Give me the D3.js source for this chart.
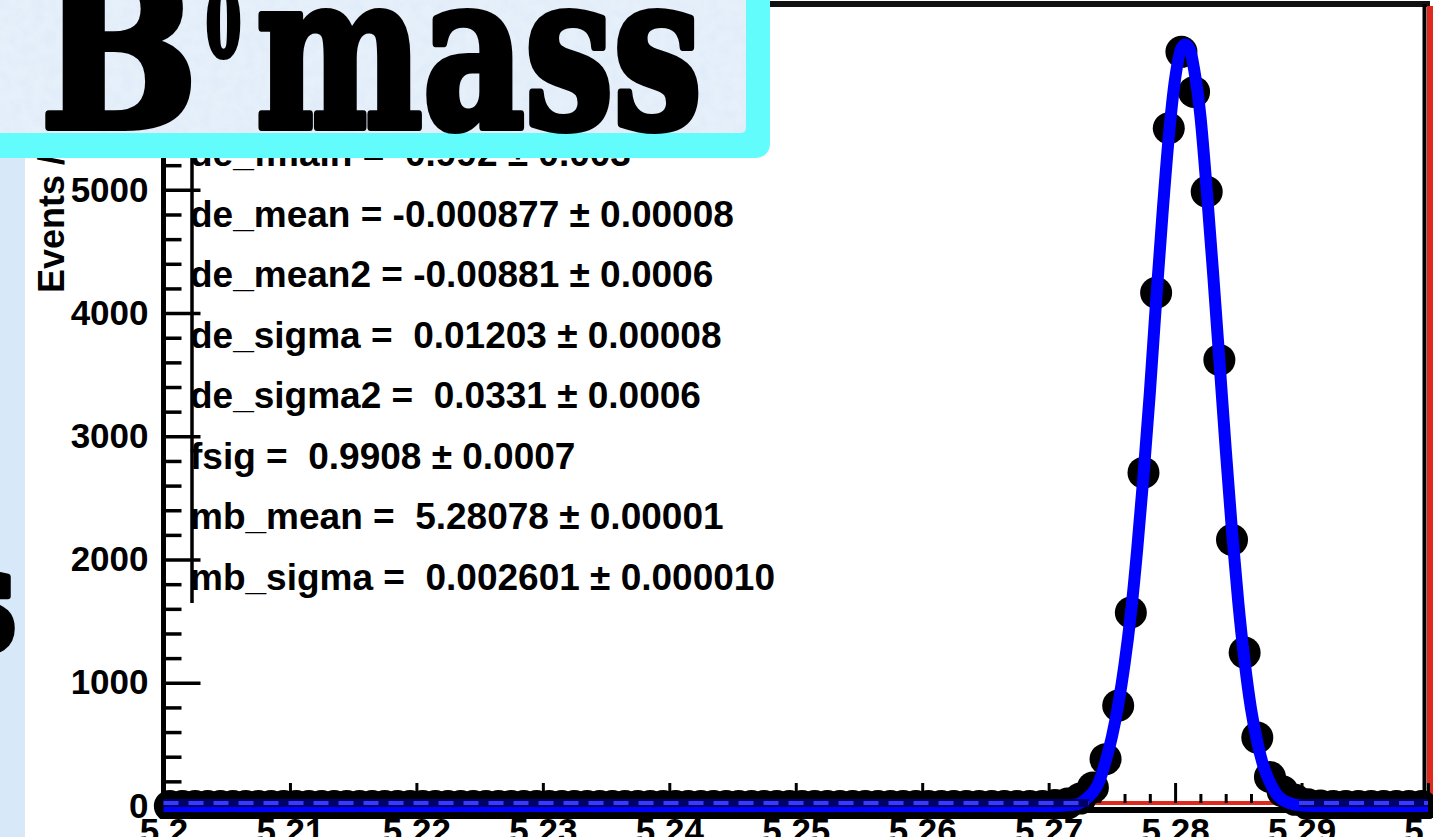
<!DOCTYPE html>
<html>
<head>
<meta charset="utf-8">
<script src="https://cdn.jsdelivr.net/npm/d3@7"></script>
<style>
  body { margin: 0; background: #d7e8f8; overflow: hidden; }
  text { white-space: pre; }
</style>
</head>
<body>
<div id="container"></div>
<script>
/* DATA */
// histogram of m_B (GeV), 100 bins of 0.001 from 5.2
const binLow = 5.2, binWidth = 0.001;
const counts = [
  0, 0, 0, 0, 0, 0, 0, 0, 0, 0,
  0, 0, 0, 0, 0, 0, 0, 0, 0, 0,
  0, 0, 0, 0, 0, 0, 0, 0, 0, 0,
  0, 0, 0, 0, 0, 0, 0, 0, 0, 0,
  0, 0, 0, 0, 0, 0, 0, 0, 0, 0,
  0, 0, 0, 0, 0, 0, 0, 0, 0, 0,
  0, 0, 0, 0, 0, 0, 0, 0, 0, 0,
  8, 20, 60, 150, 380, 815, 1570, 2705, 4165, 5500,
  6120, 5795, 4985, 3620, 2160, 1245, 555, 235, 120, 50,
  15, 5, 0, 0, 0, 0, 0, 0, 0, 0
];

// fitted curve
const fitMass = [5.2, 5.270, 5.272, 5.273, 5.274, 5.2745, 5.275, 5.2755, 5.276, 5.2765,
  5.277, 5.2775, 5.278, 5.2785, 5.279, 5.2795, 5.280, 5.2805, 5.2808, 5.2812,
  5.2815, 5.282, 5.2825, 5.283, 5.2835, 5.284, 5.2845, 5.285, 5.2855, 5.286,
  5.2865, 5.287, 5.2875, 5.288, 5.289, 5.290, 5.292, 5.3];
const fitEvents = [0, 0, 10, 60, 200, 360, 560, 820, 1150, 1560,
  2080, 2680, 3350, 4100, 4800, 5430, 5900, 6150, 6180, 6130,
  5980, 5600, 5000, 4330, 3620, 2900, 2230, 1650, 1170, 790,
  520, 320, 190, 100, 25, 5, 0, 0];

// background component (dashed), visible only outside the peak
const bgMass = [5.2, 5.2732, null, 5.2898, 5.3];
const bgEvents = [25, 25, null, 25, 25];

// axes
const xTickValues = [5.2, 5.21, 5.22, 5.23, 5.24, 5.25, 5.26, 5.27, 5.28, 5.29, 5.3];
const xTickLabels = ["5.2", "5.21", "5.22", "5.23", "5.24", "5.25", "5.26", "5.27", "5.28", "5.29", "5.3"];
const yTickValues = [0, 1000, 2000, 3000, 4000, 5000, 6000];
const yTickLabels = ["0", "1000", "2000", "3000", "4000", "5000", "6000"];
const yTitle = "Events / ( 0.001 )";

// fit results box
const statsLines = [
  "de_fmain =  0.992 \u00b1 0.003",
  "de_mean = -0.000877 \u00b1 0.00008",
  "de_mean2 = -0.00881 \u00b1 0.0006",
  "de_sigma =  0.01203 \u00b1 0.00008",
  "de_sigma2 =  0.0331 \u00b1 0.0006",
  "fsig =  0.9908 \u00b1 0.0007",
  "mb_mean =  5.28078 \u00b1 0.00001",
  "mb_sigma =  0.002601 \u00b1 0.000010"
];

/* SIZES AND SCALES */
const W = 1433, H = 837;
const x = d3.scaleLinear().domain([5.2, 5.3]).range([163.5, 1428]);
const y = d3.scaleLinear().domain([0, 6500]).range([806, 5]);

const svg = d3.select("#container").append("svg")
  .attr("width", W).attr("height", H);

const defs = svg.append("defs");
defs.append("clipPath").attr("id", "plotClip")
  .append("rect").attr("x", 25).attr("y", 0).attr("width", W).attr("height", 819);
const paper = defs.append("filter").attr("id", "paper")
  .attr("x", 0).attr("y", 0).attr("width", 1).attr("height", 1);
paper.append("feTurbulence").attr("type", "fractalNoise")
  .attr("baseFrequency", 0.09).attr("numOctaves", 3).attr("seed", 4);
paper.append("feColorMatrix").attr("type", "matrix")
  .attr("values", "0 0 0 0 0.62  0 0 0 0 0.74  0 0 0 0 0.93  0.9 0 0 0 -0.3");

/* SLIDE BACKGROUND */
svg.append("rect").attr("width", W).attr("height", H).attr("fill", "#d7e8f8");
svg.append("text")
  .attr("x", 18).attr("y", 652).attr("text-anchor", "end")
  .style("font-family", "DejaVu Serif").style("font-weight", "bold").style("font-size", "150px")
  .attr("stroke", "#000").attr("stroke-width", 6).attr("stroke-linejoin", "round")
  .text("s");
svg.append("rect").attr("x", 25).attr("y", 0).attr("width", W - 25).attr("height", H).attr("fill", "#fff");

/* FRAME */
const frame = svg.append("g");
frame.append("line").attr("x1", x(5.2)).attr("x2", 1430).attr("y1", 4).attr("y2", 4)
  .attr("stroke", "#111").attr("stroke-width", 6);
frame.append("line").attr("x1", x(5.2)).attr("x2", W).attr("y1", 810).attr("y2", 810)
  .attr("stroke", "#000").attr("stroke-width", 6);
frame.append("line").attr("x1", 1424.5).attr("x2", 1424.5).attr("y1", 4).attr("y2", 808)
  .attr("stroke", "#000").attr("stroke-width", 4);
frame.append("line").attr("x1", 1430).attr("x2", 1430).attr("y1", 6).attr("y2", 805)
  .attr("stroke", "#e0281c").attr("stroke-width", 6);
frame.append("line").attr("x1", x(5.2)).attr("x2", W).attr("y1", 803).attr("y2", 803)
  .attr("stroke", "#e0281c").attr("stroke-width", 4);

/* X AXIS (ticks point up into the frame) */
const axisFont = g => g.attr("font-family", "'Liberation Sans', Arial, sans-serif")
  .attr("font-size", 35).attr("font-weight", "bold");

const xMinor = d3.range(5.202, 5.3, 0.002).filter(v => Math.abs(v * 100 - Math.round(v * 100)) > 1e-6);
svg.append("g").attr("transform", "translate(0,803)")
  .call(d3.axisBottom(x).tickValues(xMinor).tickFormat("").tickSize(-9))
  .call(g => g.select(".domain").remove())
  .call(g => g.selectAll("line").attr("stroke-width", 3));
svg.append("g").attr("transform", "translate(0,803)")
  .call(d3.axisBottom(x).tickValues(xTickValues).tickFormat((d, i) => xTickLabels[i])
    .tickSize(-20).tickPadding(15))
  .call(axisFont)
  .call(g => g.select(".domain").remove())
  .call(g => g.selectAll("line").attr("stroke-width", 3));

/* Y AXIS (ticks point right into the frame) */
const yMinor = d3.range(200, 6500, 200).filter(v => v % 1000 !== 0);
svg.append("g").attr("transform", `translate(${x(5.2)},0)`)
  .call(d3.axisLeft(y).tickValues(yMinor).tickFormat("").tickSize(-18))
  .call(g => g.select(".domain").remove())
  .call(g => g.selectAll("line").attr("stroke-width", 3.5));
svg.append("g").attr("transform", `translate(${x(5.2)},0)`)
  .call(d3.axisLeft(y).tickValues(yTickValues).tickFormat((d, i) => yTickLabels[i])
    .tickSize(-37).tickPadding(15))
  .call(axisFont)
  .call(g => g.select(".domain").remove())
  .call(g => g.selectAll("line").attr("stroke-width", 3.5));
svg.append("line").attr("x1", x(5.2)).attr("x2", x(5.2)).attr("y1", 4).attr("y2", 808)
  .attr("stroke", "#000").attr("stroke-width", 5);

svg.append("text")
  .attr("transform", "translate(64,293) rotate(-90)")
  .attr("font-family", "'Liberation Sans', Arial, sans-serif")
  .attr("font-size", 36).attr("font-weight", "bold")
  .text(yTitle);

/* STATS BOX */
svg.append("line").attr("x1", 192).attr("x2", 192).attr("y1", 0).attr("y2", 603)
  .attr("stroke", "#000").attr("stroke-width", 3.5);
svg.append("g").selectAll("text").data(statsLines).join("text")
  .attr("x", 190)
  .attr("y", (d, i) => 166 + i * 60.5)
  .attr("font-family", "'Liberation Sans', Arial, sans-serif")
  .attr("font-size", 37).attr("font-weight", "bold")
  .text(d => d);

/* DATA POINTS */
const plot = svg.append("g").attr("clip-path", "url(#plotClip)");
plot.selectAll("circle").data(counts).join("circle")
  .attr("cx", (d, i) => x(binLow + (i + 0.5) * binWidth))
  .attr("cy", d => y(d))
  .attr("r", 16)
  .attr("fill", "#000");

/* FIT CURVE */
const fitLine = d3.line()
  .x(d => x(d[0])).y(d => y(d[1]))
  .curve(d3.curveMonotoneX);
plot.append("path")
  .datum(d3.zip(fitMass, fitEvents))
  .attr("d", fitLine)
  .attr("fill", "none").attr("stroke", "#0000ff").attr("stroke-width", 12)
  .attr("stroke-linejoin", "round");

/* BACKGROUND COMPONENT */
const bgLine = d3.line()
  .defined(d => d[0] !== null)
  .x(d => x(d[0])).y(d => y(d[1]));
const bgData = d3.zip(bgMass, bgEvents);
plot.append("path").datum(bgData).attr("d", bgLine)
  .attr("fill", "none").attr("stroke", "#00006a").attr("stroke-width", 8);
plot.append("path").datum(bgData).attr("d", bgLine)
  .attr("fill", "none").attr("stroke", "#3a3aff").attr("stroke-width", 4)
  .attr("stroke-dasharray", "15,10");

/* TITLE BOX */
const title = svg.append("g");
title.append("rect").attr("x", -30).attr("y", -30).attr("width", 800).attr("height", 188)
  .attr("rx", 14).attr("fill", "#63fcfc");
title.append("rect").attr("x", -30).attr("y", -30).attr("width", 776).attr("height", 163)
  .attr("rx", 5).attr("fill", "#e6f0fa");
title.append("rect").attr("x", -30).attr("y", -30).attr("width", 776).attr("height", 163)
  .attr("filter", "url(#paper)").attr("opacity", 0.55);

const titleFont = t => t.style("font-family", "'DejaVu Serif', serif").style("font-weight", "bold")
  .attr("fill", "#000").attr("stroke", "#000").attr("stroke-linejoin", "round")
  .attr("lengthAdjust", "spacingAndGlyphs");
title.append("text").attr("x", 40).attr("y", 127).style("font-size", "215px")
  .attr("textLength", 158).attr("stroke-width", 8).call(titleFont).text("B");
title.append("text").attr("x", 206).attr("y", 56).style("font-size", "92px")
  .attr("textLength", 35).attr("stroke-width", 6).call(titleFont).text("0");
title.append("text").attr("x", 256).attr("y", 127).style("font-size", "215px")
  .attr("textLength", 446).attr("stroke-width", 8).call(titleFont).text("mass");
</script>
</body>
</html>
